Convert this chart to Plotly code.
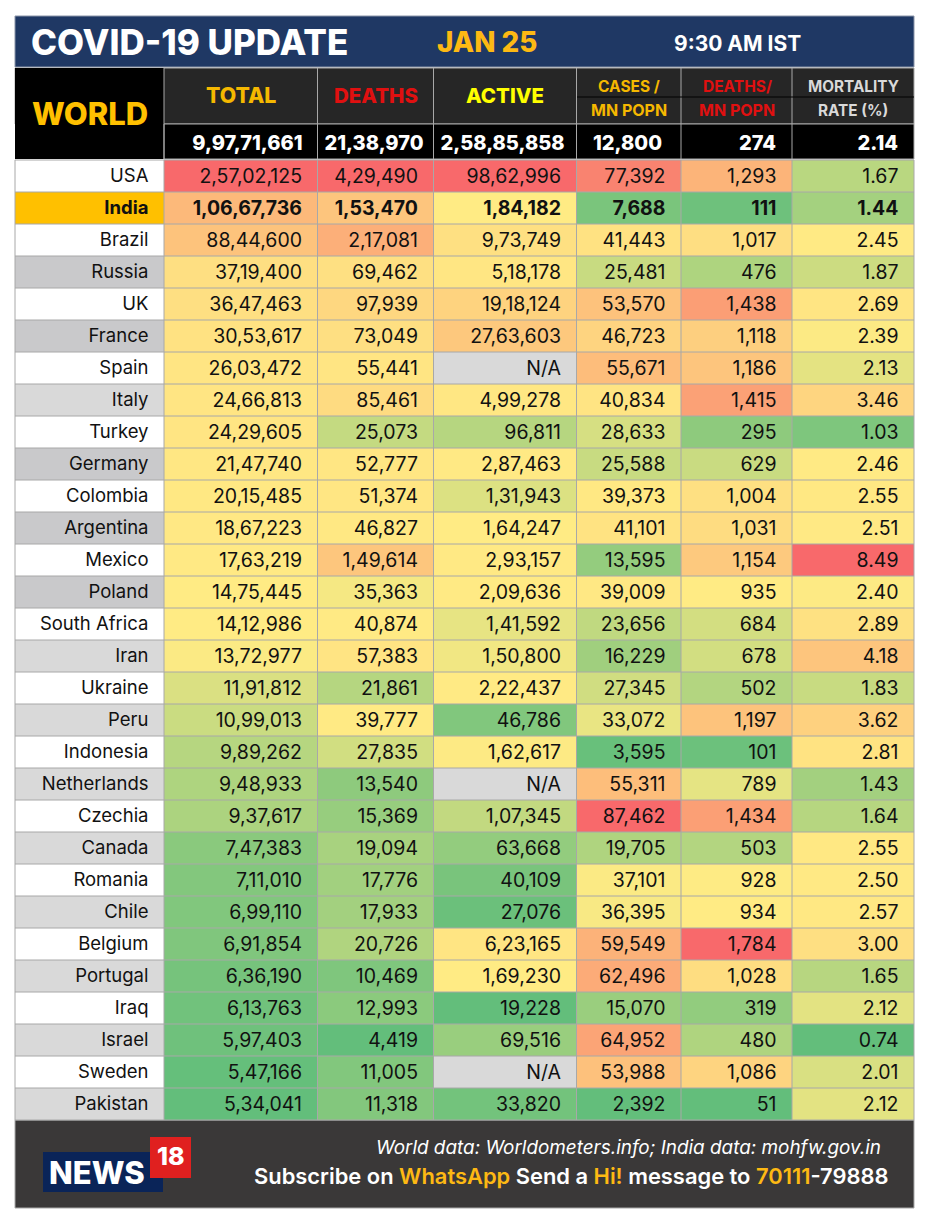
import numpy as np
import plotly.graph_objects as go

# table data
countries = ["USA", "India", "Brazil", "Russia", "UK", "France", "Spain", "Italy", "Turkey", "Germany",
             "Colombia", "Argentina", "Mexico", "Poland", "South Africa", "Iran", "Ukraine", "Peru", "Indonesia", "Netherlands",
             "Czechia", "Canada", "Romania", "Chile", "Belgium", "Portugal", "Iraq", "Israel", "Sweden", "Pakistan"]
total = ["2,57,02,125", "1,06,67,736", "88,44,600", "37,19,400", "36,47,463", "30,53,617", "26,03,472", "24,66,813", "24,29,605", "21,47,740",
         "20,15,485", "18,67,223", "17,63,219", "14,75,445", "14,12,986", "13,72,977", "11,91,812", "10,99,013", "9,89,262", "9,48,933",
         "9,37,617", "7,47,383", "7,11,010", "6,99,110", "6,91,854", "6,36,190", "6,13,763", "5,97,403", "5,47,166", "5,34,041"]
deaths = ["4,29,490", "1,53,470", "2,17,081", "69,462", "97,939", "73,049", "55,441", "85,461", "25,073", "52,777",
          "51,374", "46,827", "1,49,614", "35,363", "40,874", "57,383", "21,861", "39,777", "27,835", "13,540",
          "15,369", "19,094", "17,776", "17,933", "20,726", "10,469", "12,993", "4,419", "11,005", "11,318"]
active = ["98,62,996", "1,84,182", "9,73,749", "5,18,178", "19,18,124", "27,63,603", "N/A", "4,99,278", "96,811", "2,87,463",
          "1,31,943", "1,64,247", "2,93,157", "2,09,636", "1,41,592", "1,50,800", "2,22,437", "46,786", "1,62,617", "N/A",
          "1,07,345", "63,668", "40,109", "27,076", "6,23,165", "1,69,230", "19,228", "69,516", "N/A", "33,820"]
cases_mn = ["77,392", "7,688", "41,443", "25,481", "53,570", "46,723", "55,671", "40,834", "28,633", "25,588",
            "39,373", "41,101", "13,595", "39,009", "23,656", "16,229", "27,345", "33,072", "3,595", "55,311",
            "87,462", "19,705", "37,101", "36,395", "59,549", "62,496", "15,070", "64,952", "53,988", "2,392"]
deaths_mn = ["1,293", "111", "1,017", "476", "1,438", "1,118", "1,186", "1,415", "295", "629",
             "1,004", "1,031", "1,154", "935", "684", "678", "502", "1,197", "101", "789",
             "1,434", "503", "928", "934", "1,784", "1,028", "319", "480", "1,086", "51"]
mortality = ["1.67", "1.44", "2.45", "1.87", "2.69", "2.39", "2.13", "3.46", "1.03", "2.46",
             "2.55", "2.51", "8.49", "2.40", "2.89", "4.18", "1.83", "3.62", "2.81", "1.43",
             "1.64", "2.55", "2.50", "2.57", "3.00", "1.65", "2.12", "0.74", "2.01", "2.12"]
world_totals = ["9,97,71,661", "21,38,970", "2,58,85,858", "12,800", "274", "2.14"]
value_columns = [total, deaths, active, cases_mn, deaths_mn, mortality]

FONT = "Inter"
GRID = "#a8a8a8"

# page pixels, the plot div sits 8px in because of the body margin
col_edges = [15, 164, 317.5, 433.5, 576.5, 681, 792, 914]
row_edges = [160 + 32 * i for i in range(len(countries) + 1)]
row_mid = [(a + b) / 2 for a, b in zip(row_edges[:-1], row_edges[1:])]
totals_pad = [15, 10, 12, 19, 16, 16]


def scale_value(column):
    # excel style 3 colour scale: min, median, max
    nums = [float(v.replace(",", "")) if v != "N/A" else np.nan for v in column]
    lo, mid, hi = np.nanmin(nums), np.nanmedian(nums), np.nanmax(nums)
    out = []
    for n in nums:
        if np.isnan(n):
            out.append(np.nan)
        elif n <= mid:
            out.append(0.5 * (n - lo) / (mid - lo))
        else:
            out.append(0.5 + 0.5 * (n - mid) / (hi - mid))
    return out


heat = np.array([[np.nan] * len(countries)] + [scale_value(c) for c in value_columns]).T

# label cell shades: 0 white, 1 gold, 2 dark grey, 3 light grey
shades = [0, 1, 0, 2, 0, 2, 0, 3, 0, 2, 0, 2, 0, 2, 0, 3, 0, 3, 0, 3, 0, 3, 0, 3, 0, 3, 0, 3, 0, 3]
flat = np.full(heat.shape, np.nan)
flat[:, 0] = shades
for j, column in enumerate(value_columns):
    for i, v in enumerate(column):
        if v == "N/A":
            flat[i, j + 1] = 3

fig = go.Figure()

fig.add_trace(go.Heatmap(
    x=col_edges, y=row_edges, z=heat, zmin=0, zmax=1, showscale=False, hoverinfo="skip",
    colorscale=[[0, "#63be7b"], [0.5, "#ffeb84"], [1, "#f8696b"]]
))
fig.add_trace(go.Heatmap(
    x=col_edges, y=row_edges, z=flat, zmin=0, zmax=3, showscale=False, hoverinfo="skip",
    colorscale=[[0, "#ffffff"], [0.25, "#ffffff"], [0.25, "#ffc000"], [0.5, "#ffc000"],
                [0.5, "#c9c9cb"], [0.75, "#c9c9cb"], [0.75, "#d9d9d9"], [1, "#d9d9d9"]]
))

# text columns, india row is heavier
weights = [700 if c == "India" else 400 for c in countries]
text_cols = [countries] + value_columns
for j, column in enumerate(text_cols):
    fig.add_trace(go.Scatter(
        x=[col_edges[j + 1] - 15.5] * len(column),
        y=[m + (1 if j == 0 else 2) for m in row_mid],
        text=column, mode="text",
        textposition="middle left", hoverinfo="skip", showlegend=False,
        textfont=dict(family=FONT, size=18.5 if j == 0 else 19.5, color="#111111", weight=weights)
    ))

# world totals row
fig.add_trace(go.Scatter(
    x=[e - p for e, p in zip(col_edges[2:], totals_pad)], y=[145] * len(world_totals), text=world_totals, mode="text",
    textposition="middle left", hoverinfo="skip", showlegend=False,
    textfont=dict(family=FONT, size=20, color="#ffffff", weight=800)
))

shapes = []


def box(x0, y0, x1, y1, fill, line=None, layer="below"):
    shapes.append(dict(type="rect", x0=x0, y0=y0, x1=x1, y1=y1, fillcolor=fill, layer=layer,
                       line=dict(color=line, width=1) if line else dict(width=0)))


box(15, 16, 914, 67, "#1f3864", "#8a94a8")  # title band
box(15, 68, 914, 124, "#262626", GRID)      # header
box(15, 68, 164, 159, "#000000")            # WORLD block
box(164, 124, 914, 159, "#000000", GRID)    # totals
box(15, 1120, 914, 1208, "#3a3838", GRID)   # footer
for e in col_edges[1:-1]:
    shapes.append(dict(type="line", x0=e, x1=e, y0=68, y1=159, line=dict(color=GRID, width=1)))
shapes.append(dict(type="line", x0=577, x1=914, y0=97, y1=97, line=dict(color="#000000", width=1)))

# grid over the cells
for e in col_edges:
    shapes.append(dict(type="line", x0=e, x1=e, y0=row_edges[0], y1=row_edges[-1], layer="above",
                       line=dict(color=GRID, width=1)))
for r in row_edges:
    shapes.append(dict(type="line", x0=col_edges[0], x1=col_edges[-1], y0=r, y1=r, layer="above",
                       line=dict(color=GRID, width=1)))

# logo
box(43, 1152, 163, 1192, "#0a2458", layer="above")
box(150, 1137, 191, 1178, "#e0201f", layer="above")

annotations = []


def label(x, y, text, size, color="#ffffff", weight=800, anchor="center", italic=False):
    annotations.append(dict(x=x, y=y, text=text, showarrow=False, xanchor=anchor, yanchor="middle",
                            font=dict(family=FONT, size=size, color=color, weight=weight,
                                      style="italic" if italic else "normal")))


label(29, 42, "COVID-19 UPDATE", 35, anchor="left")
label(435, 42, "JAN 25", 27.8, "#fdb913", anchor="left")
label(672, 43, "9:30 AM IST", 21, anchor="left", weight=700)
label(90, 113, "WORLD", 31, "#ffc000")
label(241, 95, "TOTAL", 21.3, "#f5b800")
label(376, 95, "DEATHS", 20.5, "#e01010")
label(505, 95, "ACTIVE", 20.5, "#ffff00")
label(629, 86, "CASES /", 15.5, "#f5b800", 700)
label(629, 110, "MN POPN", 16, "#f5b800", 700)
label(737, 86, "DEATHS/", 15.5, "#e01010", 700)
label(737, 110, "MN POPN", 16, "#e01010", 700)
label(853, 86, "MORTALITY", 15.3, "#d9d9d9", 700)
label(853, 110, "RATE (%)", 15.3, "#d9d9d9", 700)
label(883, 1147, "World data: Worldometers.info; India data: mohfw.gov.in", 18.9, weight=400, anchor="right", italic=True)
label(891, 1176,
      'Subscribe on <span style="color:#fdb913">WhatsApp</span> Send a <span style="color:#fdb913">Hi!</span>'
      ' message to <span style="color:#fdb913">70111</span>-79888',
      21.9, weight=600, anchor="right")
label(97, 1172, "NEWS", 31, weight=800)
label(171, 1156, "18", 25, weight=800)

fig.update_layout(
    width=918, height=1212,
    margin=dict(l=0, r=0, t=0, b=0),
    paper_bgcolor="#ffffff", plot_bgcolor="#ffffff",
    showlegend=False, shapes=shapes, annotations=annotations,
    xaxis=dict(range=[8, 926], visible=False, fixedrange=True),
    yaxis=dict(range=[1220, 8], visible=False, fixedrange=True)
)

fig.write_html("out.html", config=dict(displayModeBar=False))
